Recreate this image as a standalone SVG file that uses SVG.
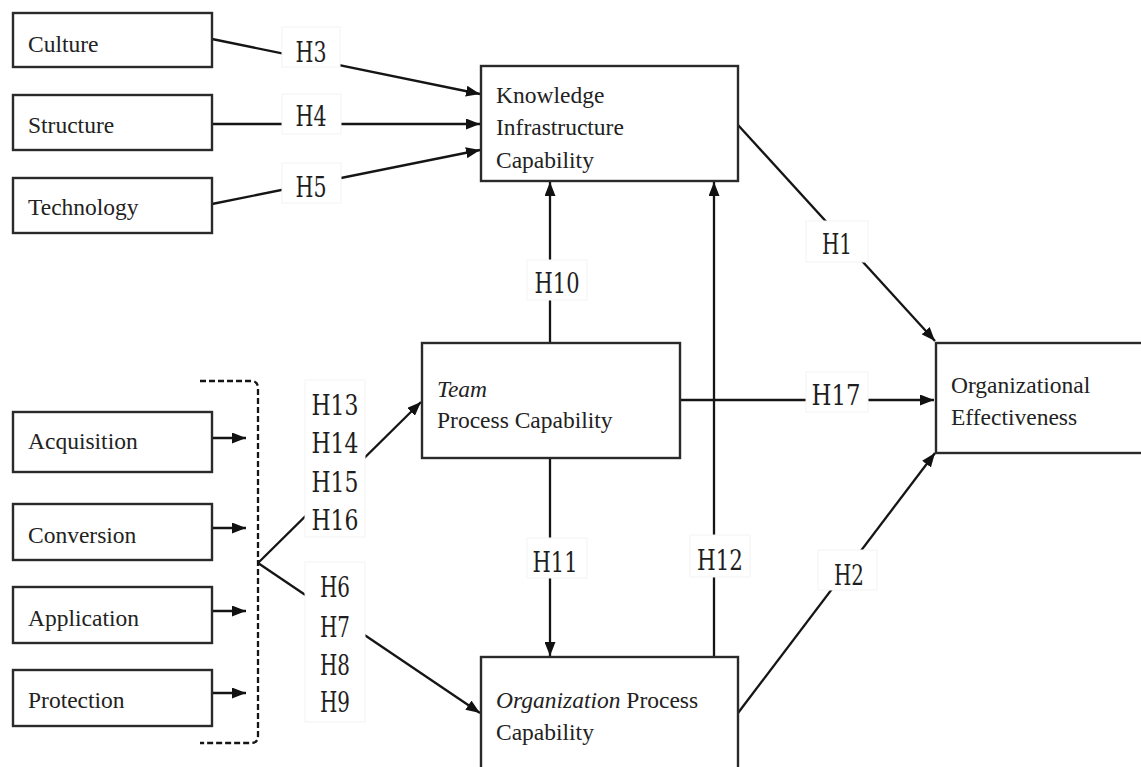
<svg xmlns="http://www.w3.org/2000/svg" width="1141" height="767" viewBox="0 0 1141 767">
<style>
.box{fill:#fff;stroke:#2a2a2a;stroke-width:2.4}
.t{font-family:"Liberation Serif","Times New Roman",serif;font-size:23.5px;fill:#222}
.i{font-style:italic}
.c{fill:none;stroke:#151515;stroke-width:2.3}
.lb{fill:#fff;stroke:#f3f3f3;stroke-width:1}
.h{font-family:"DejaVu Serif",serif;font-size:28px;fill:#1e1e1e;text-anchor:middle}
</style>
<defs>
<marker id="ah" viewBox="0 0 14 11" refX="14" refY="5.5" markerWidth="14" markerHeight="11" markerUnits="userSpaceOnUse" orient="auto">
<path d="M0,0 L14,5.5 L0,11 z" fill="#111"/>
</marker>
</defs>
<rect width="1141" height="767" fill="#fff"/>

<g id="connectors">
<line class="c" x1="212" y1="39" x2="480" y2="94" marker-end="url(#ah)"/>
<line class="c" x1="212" y1="124" x2="480" y2="124" marker-end="url(#ah)"/>
<line class="c" x1="212" y1="204" x2="480" y2="150" marker-end="url(#ah)"/>
<line class="c" x1="738" y1="125" x2="935" y2="341" marker-end="url(#ah)"/>
<line class="c" x1="680" y1="400" x2="934" y2="400" marker-end="url(#ah)"/>
<line class="c" x1="738" y1="713" x2="935" y2="453" marker-end="url(#ah)"/>
<line class="c" x1="550" y1="343" x2="550" y2="182" marker-end="url(#ah)"/>
<line class="c" x1="550" y1="458" x2="550" y2="656" marker-end="url(#ah)"/>
<line class="c" x1="714" y1="657" x2="714" y2="182" marker-end="url(#ah)"/>
<line class="c" x1="258" y1="563" x2="421" y2="402" marker-end="url(#ah)"/>
<line class="c" x1="258" y1="563" x2="480" y2="713" marker-end="url(#ah)"/>
<line class="c" x1="212" y1="438" x2="246" y2="438" marker-end="url(#ah)"/>
<line class="c" x1="212" y1="528" x2="246" y2="528" marker-end="url(#ah)"/>
<line class="c" x1="212" y1="611" x2="246" y2="611" marker-end="url(#ah)"/>
<line class="c" x1="212" y1="693" x2="246" y2="693" marker-end="url(#ah)"/>
<path class="c" d="M200,381 L251,381 Q258,381 258,388 L258,736 Q258,743 251,743 L200,743" stroke-dasharray="6,3" stroke-width="2"/>
</g>

<g id="labels">
<rect class="lb" x="282" y="27" width="58" height="40"/><text class="h" x="311" y="62" textLength="31" lengthAdjust="spacingAndGlyphs">H3</text>
<rect class="lb" x="282" y="94" width="59" height="40"/><text class="h" x="311" y="126" textLength="31" lengthAdjust="spacingAndGlyphs">H4</text>
<rect class="lb" x="282" y="163" width="59" height="40"/><text class="h" x="311" y="197" textLength="31" lengthAdjust="spacingAndGlyphs">H5</text>
<rect class="lb" x="806" y="221" width="62" height="41"/><text class="h" x="837" y="254" textLength="30" lengthAdjust="spacingAndGlyphs">H1</text>
<rect class="lb" x="527" y="260" width="60" height="40"/><text class="h" x="557" y="293" textLength="45" lengthAdjust="spacingAndGlyphs">H10</text>
<rect class="lb" x="806" y="372" width="62" height="40"/><text class="h" x="836" y="405" textLength="49" lengthAdjust="spacingAndGlyphs">H17</text>
<rect class="lb" x="527" y="538" width="60" height="40"/><text class="h" x="555" y="572" textLength="45" lengthAdjust="spacingAndGlyphs">H11</text>
<rect class="lb" x="690" y="535" width="60" height="42"/><text class="h" x="720" y="570" textLength="46" lengthAdjust="spacingAndGlyphs">H12</text>
<rect class="lb" x="818" y="550" width="59" height="40"/><text class="h" x="849" y="585" textLength="30" lengthAdjust="spacingAndGlyphs">H2</text>
<rect class="lb" x="305" y="380" width="60" height="157"/>
<text class="h" x="335" y="415" textLength="47" lengthAdjust="spacingAndGlyphs">H13</text>
<text class="h" x="335" y="453" textLength="47" lengthAdjust="spacingAndGlyphs">H14</text>
<text class="h" x="335" y="492" textLength="47" lengthAdjust="spacingAndGlyphs">H15</text>
<text class="h" x="335" y="530" textLength="47" lengthAdjust="spacingAndGlyphs">H16</text>
<rect class="lb" x="305" y="562" width="60" height="160"/>
<text class="h" x="335" y="597" textLength="30" lengthAdjust="spacingAndGlyphs">H6</text>
<text class="h" x="335" y="637" textLength="30" lengthAdjust="spacingAndGlyphs">H7</text>
<text class="h" x="335" y="675" textLength="30" lengthAdjust="spacingAndGlyphs">H8</text>
<text class="h" x="335" y="712" textLength="30" lengthAdjust="spacingAndGlyphs">H9</text>
</g>

<g id="culture"><rect class="box" x="13" y="13" width="199" height="54"/><text class="t" x="28" y="52">Culture</text></g>
<g id="structure"><rect class="box" x="13" y="95" width="199" height="55"/><text class="t" x="28" y="133">Structure</text></g>
<g id="technology"><rect class="box" x="13" y="178" width="199" height="55"/><text class="t" x="28" y="215">Technology</text></g>
<g id="knowledge"><rect class="box" x="481" y="66" width="257" height="115"/>
<text class="t" x="496" y="103">Knowledge</text><text class="t" x="496" y="135">Infrastructure</text><text class="t" x="496" y="168">Capability</text></g>
<g id="team"><rect class="box" x="422" y="343" width="258" height="115"/>
<text class="t i" x="437" y="397">Team</text><text class="t" x="437" y="428">Process Capability</text></g>
<g id="effectiveness"><rect class="box" x="936" y="343" width="215" height="110"/>
<text class="t" x="951" y="393">Organizational</text><text class="t" x="951" y="425">Effectiveness</text></g>
<g id="organization"><rect class="box" x="481" y="657" width="257" height="120"/>
<text class="t" x="496" y="708"><tspan class="i">Organization</tspan> Process</text><text class="t" x="496" y="740">Capability</text></g>
<g id="acquisition"><rect class="box" x="13" y="412" width="199" height="60"/><text class="t" x="28" y="449">Acquisition</text></g>
<g id="conversion"><rect class="box" x="13" y="504" width="199" height="56"/><text class="t" x="28" y="543">Conversion</text></g>
<g id="application"><rect class="box" x="13" y="587" width="199" height="56"/><text class="t" x="28" y="626">Application</text></g>
<g id="protection"><rect class="box" x="13" y="670" width="199" height="56"/><text class="t" x="28" y="708">Protection</text></g>
</svg>
